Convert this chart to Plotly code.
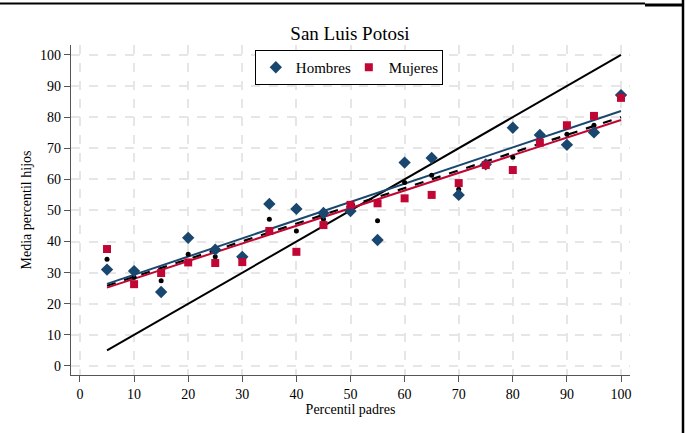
import plotly.graph_objects as go

percentil = [5, 10, 15, 20, 25, 30, 35, 40, 45, 50, 55, 60, 65, 70, 75, 80, 85, 90, 95, 100]
hombres = [31.0, 30.5, 23.8, 41.2, 37.4, 35.1, 52.1, 50.5, 49.2, 49.8, 40.5, 65.4, 66.9, 55.0, 64.8, 76.6, 74.3, 71.1, 75.1, 87.1]
mujeres = [37.6, 26.3, 29.9, 33.3, 33.1, 33.4, 43.4, 36.7, 45.3, 51.8, 52.3, 53.9, 55.0, 58.8, 64.6, 63.0, 71.8, 77.4, 80.4, 86.2]
total = [34.3, 28.5, 27.4, 35.9, 35.1, 34.3, 47.2, 43.4, 47.2, 50.6, 46.7, 59.0, 61.3, 56.8, 64.6, 67.1, 73.0, 74.5, 77.4, 86.6]

fit_x = [5, 100]
fit_hombres = [26.4, 82.0]
fit_mujeres = [25.2, 79.1]
fit_total = [25.8, 80.0]
diag = [5, 100]

ticks = [0, 10, 20, 30, 40, 50, 60, 70, 80, 90, 100]

NAVY = "#1a476f"
RED = "#c10534"
FONT = "Liberation Serif"

fig = go.Figure()
fig.add_trace(go.Scatter(x=diag, y=diag, mode="lines", line=dict(color="black", width=2), showlegend=False))
fig.add_trace(go.Scatter(x=fit_x, y=fit_total, mode="lines", line=dict(color="black", width=2.2, dash="dash"), showlegend=False))
fig.add_trace(go.Scatter(x=fit_x, y=fit_hombres, mode="lines", line=dict(color=NAVY, width=2), showlegend=False))
fig.add_trace(go.Scatter(x=fit_x, y=fit_mujeres, mode="lines", line=dict(color=RED, width=2), showlegend=False))
fig.add_trace(go.Scatter(x=percentil, y=total, mode="markers", marker=dict(color="black", size=5, symbol="circle"), showlegend=False))
fig.add_trace(go.Scatter(x=percentil, y=hombres, mode="markers", name="Hombres",
                         marker=dict(color=NAVY, size=9.5, symbol="diamond")))
fig.add_trace(go.Scatter(x=percentil, y=mujeres, mode="markers", name="Mujeres",
                         marker=dict(color=RED, size=8, symbol="square")))

L, R, T, B = 71, 630, 45, 375
W, H = 686, 433

def px(xp):
    return (xp - L) / (R - L)

def py(yp):
    return (B - yp) / (B - T)

shapes = [
    dict(type="line", xref="paper", yref="paper", x0=px(0), x1=px(645), y0=py(3.5), y1=py(3.5),
         line=dict(color="black", width=2)),
    dict(type="line", xref="paper", yref="paper", x0=px(645), x1=px(684), y0=py(5), y1=py(5),
         line=dict(color="black", width=3)),
    dict(type="line", xref="paper", yref="paper", x0=px(683), x1=px(683), y0=py(0), y1=py(433),
         line=dict(color="black", width=2.5)),
]

fig.update_layout(
    width=W, height=H,
    margin=dict(l=L, r=W - R, t=T, b=H - B),
    paper_bgcolor="white", plot_bgcolor="white",
    font=dict(family=FONT, size=14, color="black"),
    title=dict(text="San Luis Potosi", x=(350) / W, xanchor="center", y=1 - 33 / H, yanchor="middle",
               font=dict(family=FONT, size=19, color="black")),
    legend=dict(orientation="h", x=0.497, xanchor="center", y=0.985, yanchor="top",
                bordercolor="black", borderwidth=1, bgcolor="white",
                font=dict(family=FONT, size=15), itemwidth=30, entrywidth=48, entrywidthmode="pixels",
                tracegroupgap=0),
    shapes=shapes,
    xaxis=dict(range=[-1.66, 101.66], tickvals=ticks, showgrid=True, gridcolor="#e6e6e6", gridwidth=1.5,
               griddash="dash", zeroline=False, showline=True, linecolor="#555555", linewidth=1.2,
               ticks="outside", ticklen=6, tickcolor="#555555", tickfont=dict(size=14, family=FONT),
               title=dict(text="Percentil padres", font=dict(size=14, family=FONT), standoff=1)),
    yaxis=dict(range=[-2.9, 103.2], tickvals=ticks, showgrid=True, gridcolor="#e6e6e6", gridwidth=1.5,
               griddash="dash", zeroline=False, showline=True, linecolor="#555555", linewidth=1.2,
               ticks="outside", ticklen=6, tickcolor="#555555", tickfont=dict(size=14, family=FONT),
               title=dict(text="Media percentil hijos", font=dict(size=14, family=FONT), standoff=5)),
)

fig.write_html("out.html")
